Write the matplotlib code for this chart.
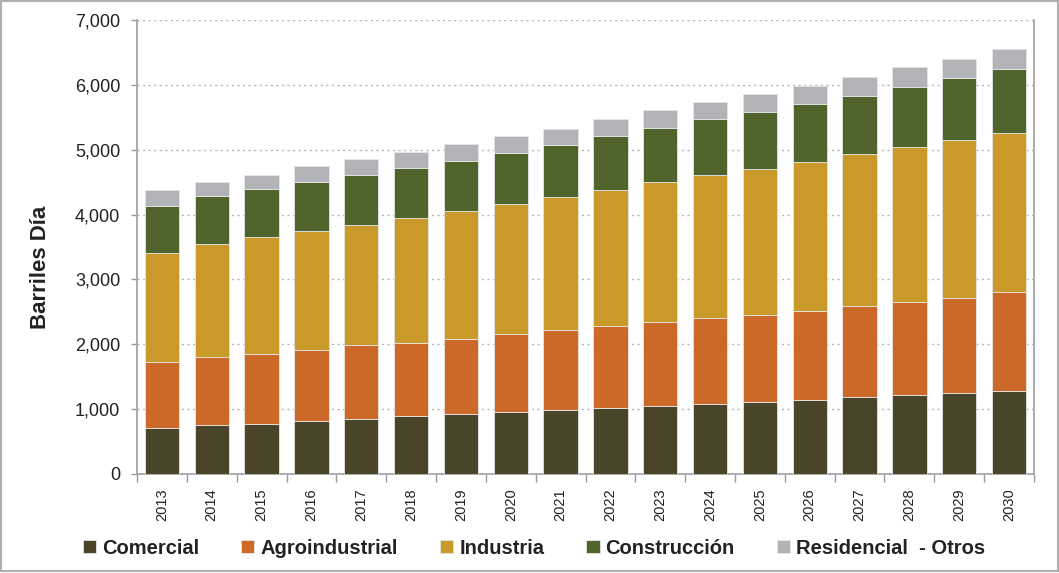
import matplotlib
matplotlib.use("Agg")
import matplotlib.pyplot as plt
from matplotlib.patches import Rectangle
from matplotlib.ticker import FuncFormatter, FixedLocator
import numpy as np

# data (barriles por dia)
years = ['2013', '2014', '2015', '2016', '2017', '2018', '2019', '2020', '2021',
         '2022', '2023', '2024', '2025', '2026', '2027', '2028', '2029', '2030']
comercial = [710, 750, 770, 815, 845, 890, 925, 955, 985,
             1015, 1050, 1080, 1110, 1140, 1185, 1220, 1250, 1285]
agroindustrial = [1020, 1050, 1080, 1100, 1140, 1130, 1160, 1200, 1230,
                  1265, 1295, 1325, 1340, 1370, 1405, 1435, 1465, 1520]
industria = [1680, 1740, 1800, 1835, 1850, 1925, 1975, 2005, 2050,
             2100, 2155, 2205, 2250, 2300, 2345, 2390, 2435, 2455]
construccion = [725, 740, 740, 755, 770, 770, 770, 785, 800,
                830, 830, 860, 880, 895, 895, 925, 955, 985]
residencial = [245, 215, 215, 245, 245, 245, 260, 260, 260,
               260, 280, 260, 280, 280, 295, 310, 290, 310]

series = [('Comercial', comercial, '#4a4428'),
          ('Agroindustrial', agroindustrial, '#cc6828'),
          ('Industria', industria, '#c99a2a'),
          ('Construcción', construccion, '#4f652c'),
          ('Residencial  - Otros', residencial, '#b2b3b6')]

plt.rcParams['font.family'] = ['Liberation Sans', 'DejaVu Sans']

fig = plt.figure(figsize=(10.59, 5.73), dpi=100)
ax = fig.add_axes([137/1059, 1 - 474/573, (1034 - 137)/1059, (474 - 20)/573])

x = np.arange(len(years))
bottom = np.zeros(len(years))
for name, vals, col in series:
    ax.bar(x, vals, bottom=bottom, width=0.69, color=col, edgecolor='#e6e6e6',
           linewidth=0.6, label=name, zorder=3)
    bottom += np.array(vals)

ax.set_xlim(-0.5, len(years) - 0.5)
ax.set_ylim(0, 7000)
ax.set_yticks(np.arange(0, 7001, 1000))
ax.yaxis.set_major_formatter(FuncFormatter(lambda v, p: f'{int(v):,}'))
ax.tick_params(axis='y', labelsize=13, length=4, width=1, color='#999999',
               labelcolor='#222222', pad=8)
ax.grid(axis='y', linestyle=(0, (1.5, 2.5)), color='#b5b5b5', linewidth=1, zorder=0)

# ticks between categories, labels in the middle
ax.xaxis.set_major_locator(FixedLocator(np.arange(-0.5, len(years), 1.0)))
ax.xaxis.set_major_formatter(FuncFormatter(lambda v, p: ''))
ax.set_xticks(x, minor=True)
ax.set_xticklabels(years, minor=True, rotation=90, fontsize=10.5, color='#222222')
ax.tick_params(axis='x', which='major', length=6, width=1, color='#999999')
ax.tick_params(axis='x', which='minor', length=0, pad=10)

for side in ['left', 'bottom', 'right']:
    ax.spines[side].set_color('#a6a6a6')
    ax.spines[side].set_linewidth(1.3)
ax.spines['top'].set_visible(False)

ax.set_ylabel('Barriles Día', fontsize=16, fontweight='bold', color='#222222')
ax.yaxis.set_label_coords(-0.096, 0.456)

handles, labels = ax.get_legend_handles_labels()
fig.legend(handles, labels, loc='center', bbox_to_anchor=(534/1059, 1 - 548/573),
           ncol=5, frameon=False, prop={'size': 14.5, 'weight': 'bold'},
           handlelength=0.65, handleheight=0.65, handletextpad=0.3,
           columnspacing=2.1, labelcolor='#222222')

# outer frame of the chart
fig.patches.append(Rectangle((0.001, 0.003), 0.998, 0.995, transform=fig.transFigure,
                             fill=False, edgecolor='#b0b0b0', linewidth=1.5))

fig.savefig('out.png', dpi=100)
